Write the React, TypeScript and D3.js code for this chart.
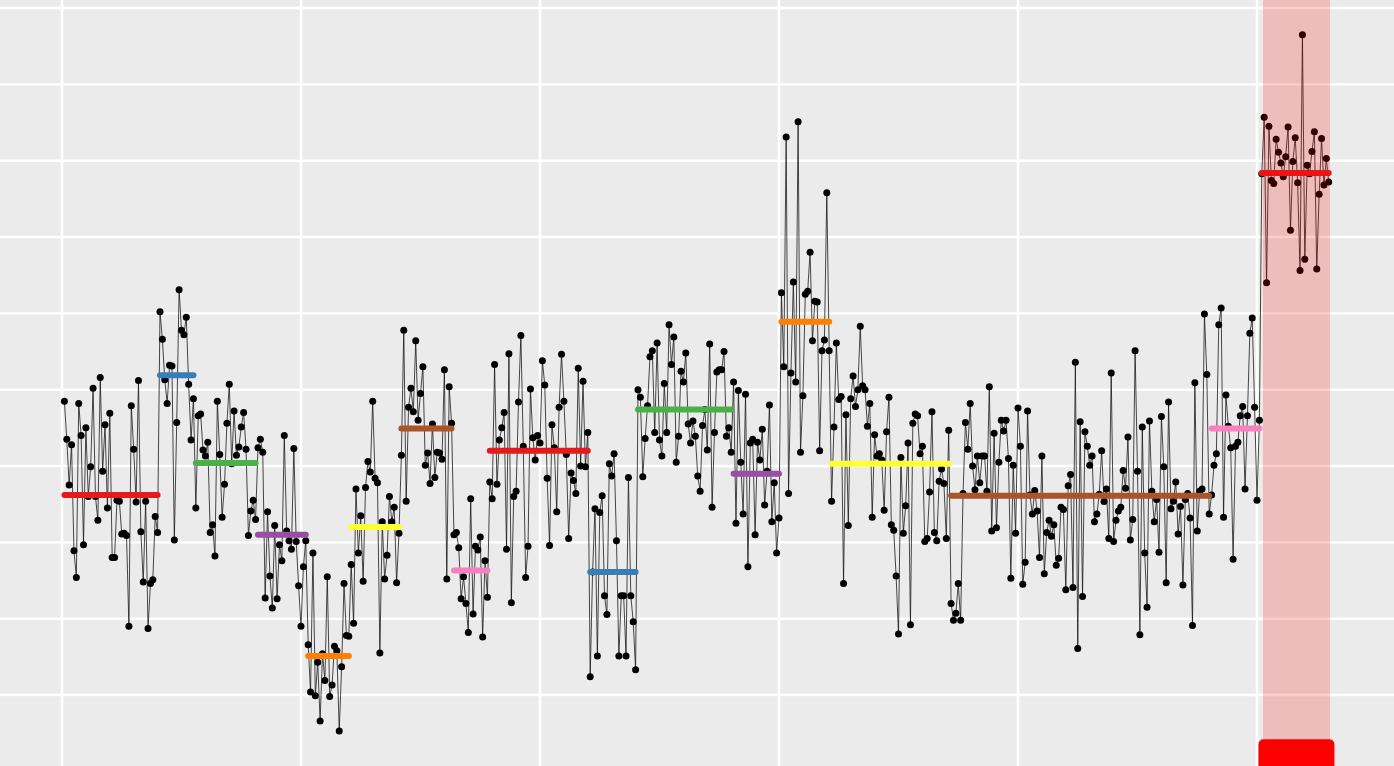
import * as d3 from 'd3';

// observations 1..530, grouped by segment
const values: number[] = [
  // 1-40
  38.5, 33.5, 27.5, 32.8, 18.9, 15.4, 38.2, 34, 19.7, 35, 26, 29.9, 40.2, 26, 22.9, 41.6, 29.3, 35.4, 24.5, 36.9,
  18, 18, 25.5, 25.4, 21.1, 21.2, 20.9, 9, 37.9, 32.2, 25.3, 41.2, 21.4, 14.8, 25.4, 8.7, 14.6, 15.1, 23.4, 21.3,
  // 41-55
  50.2, 46.6, 41.3, 38.2, 43.2, 43.1, 20.3, 35.7, 53.1, 47.8, 47.2, 49.5, 40.7, 33.4, 38.8,
  // 56-81
  24.5, 36.6, 36.8, 32.1, 31.3, 33.1, 21.3, 22.3, 18.2, 38.5, 31.5, 23.3, 27.6, 35.6, 40.7, 30.3, 37.2, 31.4, 32.5,
  35.1, 37, 32.2, 20.9, 24.1, 25.5, 23,
  // 82-102
  32.4, 33.5, 31.8, 12.7, 24, 15.6, 11.4, 22.2, 12.6, 19.7, 17.6, 34, 21.5, 20.2, 19.1, 32.3, 20.1, 14.3, 9, 16.8, 20.2,
  // 103-120
  6.6, 0.4, 18.6, -0.1, 4.3, -3.4, 5.4, 1.9, 15.5, -0.2, 1.3, 6.4, 5.8, -4.7, 3.7, 14.6, 7.8, 7.7,
  // 121-141
  17.1, 9.4, 27, 18.6, 23.5, 14.9, 27.2, 30.6, 29.2, 38.5, 28.4, 27.8, 5.5, 22.7, 15.2, 18.3, 26, 22.7, 24.6, 14.7, 21.2,
  // 142-163
  31.4, 47.8, 25.4, 37.7, 40.2, 37.1, 46.4, 36, 39.5, 43, 30.1, 31.7, 27.7, 35.5, 28.5, 31.8, 31.7, 30.9, 42.6, 15.2,
  40.4, 35.6,
  // 164-178
  21, 21.3, 19.3, 12.6, 15.5, 12, 8.2, 25.7, 10.6, 19.5, 19, 20.7, 7.6, 17.6, 12.8,
  // 179-220
  27.9, 25.7, 43.3, 27.6, 33.4, 35, 37, 19.1, 44.7, 12.1, 26, 26.7, 38.4, 47.1, 32.6, 15.4, 19.5, 40.1, 33.7, 30.8,
  34, 33, 43.8, 40.6, 28.4, 19.6, 35.4, 32.4, 24, 37.7, 44.65, 38.5, 31.5, 20.5, 29.1, 28.1, 26.4, 42.8, 30, 41.1,
  29.9, 34.4,
  // 221-240
  2.4, 16.1, 24.4, 5.1, 23.9, 26.1, 13, 10.55, 30.3, 28.7, 31.6, 20.2, 5.1, 13, 13, 5.1, 28.5, 13, 9.6, 3.3,
  // 241-280
  40, 39, 28.6, 33.6, 37.9, 44.3, 45.1, 34.4, 46.1, 33.4, 31.3, 40.8, 34.4, 48.5, 43.3, 46.9, 30.5, 33.9, 42.4, 41,
  44.8, 35.5, 33, 35.9, 33.9, 28.7, 26.7, 35.3, 37.4, 32.1, 46, 24.6, 34.4, 42.3, 42.6, 42.6, 45, 33.9, 35, 31.8,
  // 281-300
  41, 22.5, 39.9, 30.5, 23.7, 39.4, 16.8, 33, 33.5, 21, 33.1, 30.8, 34.8, 24.9, 29.3, 38, 22.7, 27.8, 18.6, 23.2,
  // 301-321
  52.7, 43, 73.1, 26.4, 42.2, 54.1, 41, 75.1, 31.8, 39.2, 52.5, 52.9, 58, 46.4, 51.6, 51.5, 32, 45.1, 46.5, 65.8, 45.1,
  // 322-371
  25.4, 35.1, 46.1, 38.7, 39.1, 14.6, 36.7, 22.2, 38.8, 41.8, 37.8, 40, 48.3, 40.5, 40, 35.2, 38.2, 23.3, 34.1, 31.3,
  31.6, 30.8, 24.2, 34.5, 39, 22.3, 21.6, 15.6, 8, 31.1, 21.2, 24.8, 33, 9.2, 35.6, 36.8, 36.6, 31.6, 32.6, 20.1,
  20.5, 26.6, 37.1, 21.3, 20.2, 28, 29.6, 27.7, 20.5, 34.7,
  // 372-480
  12, 9.8, 10.7, 14.6, 9.8, 26.4, 35.7, 32.2, 38.2, 30, 26.9, 31.3, 27.8,
  31.3, 31.3, 26.7, 40.4, 21.5, 34.3, 21.9, 30.5, 36, 34.6, 36, 31, 15.3, 30.1, 21.2, 37.6, 32.6, 14.5, 17.4, 37.2,
  26.2, 23.7, 26.8, 24.1, 18, 31.3, 15.9, 21.3, 22.9, 20.8, 22.3, 17, 17.9, 24.6, 24.3, 13.8, 27.4, 28.9, 14.1, 43.6,
  6.1, 35.8, 12.9, 34.5, 32.6, 30.1, 31.3, 22.7,
  23.7, 26.3, 32, 25.35, 27, 20.5, 42.2, 20.1, 22.9, 24.1, 24.6, 29.4, 27.1, 33.8, 20.3, 23, 45.1, 29.3, 7.9, 35.1,
  18.6, 11.5, 35.9, 26.7, 22.7, 25.6, 18.7, 36.5, 29.9, 14.7, 38.4, 24.4, 25.4, 27.9, 21.1, 24.7, 14.4, 25.6, 26.4,
  23.2, 9.1, 40.9, 21.5, 26.7, 27, 49.9, 42, 23.7,
  // 481-501
  26.2, 30.1, 31.6, 48.5, 50.7, 23.3, 39.3, 35.2, 32.4, 17.8, 32.6, 33.1, 36.6, 37.8, 27, 36.6, 47.4, 49.4, 37.7,
  25.5, 36,
  // 502-530
  68.3, 75.7, 54, 74.5, 67.4, 67, 72.8, 71.1, 69.7, 67.9, 70.5, 74.4, 60.9, 69.9, 73, 67.1, 55.6, 86.5, 57.1, 69.4,
  68.3, 71.2, 73.8, 55.8, 65.6, 72.9, 66.8, 70.3, 67.2,
];

const segmentStarts = [1, 41, 56, 82, 103, 121, 142, 164, 179, 221, 241, 281, 301, 322, 372, 481, 502];
const segmentMeans = [26.2, 41.9, 30.4, 21.0, 5.1, 22.0, 34.9, 16.3, 32.0, 16.1, 37.4, 29.0, 48.9, 30.3, 26.1, 34.9, 68.4];

const xBreaks = [0, 100, 200, 300, 400, 500];
const yBreaks = [0, 10, 20, 30, 40, 50, 60, 70, 80, 90];

const highlightRange = [502.5, 530.5];
const labelValue = -5.8;

const W = 1394;
const H = 766;

export default function App() {
  const x = d3.scaleLinear().domain([-25.94, 557.32]).range([0, W]);
  const y = d3.scaleLinear().domain([-9.3, 91.05]).range([H, 0]);

  const pts = values.map((v, k) => ({ i: k + 1, v }));
  const line = d3.line<{ i: number; v: number }>()
    .x(d => x(d.i))
    .y(d => y(d.v));

  const colors = d3.schemeSet1.slice(0, 8);
  const segments = segmentStarts.map((s, k) => ({
    start: s,
    end: k < segmentStarts.length - 1 ? segmentStarts[k + 1] - 1 : values.length,
    mean: segmentMeans[k],
    color: colors[k % 8],
  }));

  const labelCx = x((highlightRange[0] + highlightRange[1]) / 2);

  return (
    <svg
      width={W}
      height={H}
      style={{ position: 'absolute', left: 0, top: 0, display: 'block' }}
    >
      <rect x={0} y={0} width={W} height={H} fill="#EBEBEB" />
      {yBreaks.map(b => (
        <line key={'y' + b} x1={0} x2={W} y1={y(b)} y2={y(b)} stroke="#fff" strokeWidth={2.4} />
      ))}
      {xBreaks.map(b => (
        <line key={'x' + b} x1={x(b)} x2={x(b)} y1={0} y2={H} stroke="#fff" strokeWidth={2.6} />
      ))}

      <path d={line(pts) || ''} fill="none" stroke="#111" strokeWidth={0.9} strokeOpacity={0.85} />
      {pts.map(d => (
        <circle key={d.i} cx={x(d.i)} cy={y(d.v)} r={3.5} fill="#000" />
      ))}

      {segments.map((s, k) => (
        <line
          key={'s' + k}
          x1={x(s.start)}
          x2={x(s.end)}
          y1={y(s.mean)}
          y2={y(s.mean)}
          stroke={s.color}
          strokeWidth={6}
          strokeLinecap="round"
        />
      ))}

      <rect
        x={x(highlightRange[0])}
        y={0}
        width={x(highlightRange[1]) - x(highlightRange[0])}
        height={H}
        fill="#FF0000"
        fillOpacity={0.2}
      />

      <rect x={labelCx - 38} y={y(labelValue)} width={76} height={40} rx={5} ry={5} fill="#FF0000" />
    </svg>
  );
}
